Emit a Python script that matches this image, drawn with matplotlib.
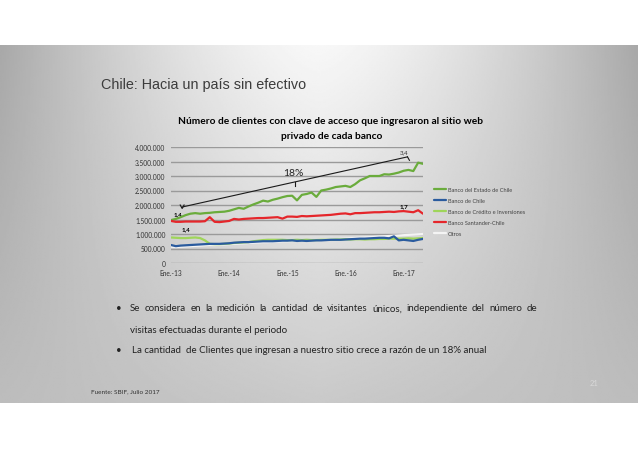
import numpy as np
import matplotlib
matplotlib.use("Agg")
import matplotlib.pyplot as plt
from matplotlib.ticker import FuncFormatter

# Monthly values, Jan-2013 .. May-2017, in millions of clients
estado = [1.48, 1.52, 1.58, 1.65, 1.70, 1.72, 1.70, 1.72, 1.73, 1.75, 1.76, 1.77,
          1.80, 1.85, 1.90, 1.87, 1.95, 2.02, 2.08, 2.15, 2.12, 2.18, 2.22, 2.27,
          2.31, 2.32, 2.16, 2.35, 2.38, 2.43, 2.28, 2.50, 2.53, 2.57, 2.62, 2.64,
          2.66, 2.62, 2.72, 2.85, 2.92, 3.00, 3.00, 3.00, 3.06, 3.05, 3.08, 3.12,
          3.18, 3.21, 3.17, 3.46, 3.42]
chile = [0.62, 0.58, 0.60, 0.61, 0.62, 0.63, 0.64, 0.65, 0.66, 0.66, 0.66, 0.67,
         0.68, 0.70, 0.71, 0.72, 0.72, 0.73, 0.74, 0.75, 0.75, 0.75, 0.76, 0.77,
         0.77, 0.78, 0.76, 0.77, 0.76, 0.77, 0.78, 0.78, 0.79, 0.80, 0.80, 0.80,
         0.81, 0.82, 0.83, 0.84, 0.84, 0.85, 0.86, 0.87, 0.87, 0.85, 0.92, 0.78,
         0.80, 0.78, 0.76, 0.80, 0.83]
bci = [0.88, 0.87, 0.86, 0.86, 0.87, 0.88, 0.86, 0.78, 0.66, 0.65, 0.65, 0.66,
       0.67, 0.69, 0.70, 0.71, 0.72, 0.75, 0.77, 0.79, 0.80, 0.80, 0.80, 0.80,
       0.79, 0.79, 0.80, 0.79, 0.80, 0.79, 0.79, 0.80, 0.80, 0.80, 0.81, 0.81,
       0.82, 0.81, 0.82, 0.82, 0.81, 0.82, 0.82, 0.83, 0.83, 0.84, 0.84, 0.84,
       0.84, 0.85, 0.84, 0.85, 0.86]
santander = [1.45, 1.42, 1.42, 1.43, 1.43, 1.43, 1.43, 1.44, 1.58, 1.42, 1.41, 1.43,
             1.45, 1.52, 1.50, 1.52, 1.53, 1.54, 1.55, 1.55, 1.56, 1.57, 1.58, 1.53,
             1.60, 1.60, 1.59, 1.62, 1.61, 1.62, 1.63, 1.64, 1.65, 1.66, 1.68, 1.70,
             1.71, 1.68, 1.72, 1.72, 1.73, 1.74, 1.75, 1.75, 1.76, 1.77, 1.76, 1.78,
             1.79, 1.77, 1.75, 1.82, 1.70]
otros = [0.56, 0.55, 0.56, 0.57, 0.58, 0.59, 0.60, 0.61, 0.62, 0.62, 0.63, 0.64,
         0.65, 0.66, 0.67, 0.68, 0.69, 0.70, 0.71, 0.72, 0.72, 0.73, 0.74, 0.75,
         0.75, 0.76, 0.76, 0.77, 0.78, 0.78, 0.79, 0.80, 0.80, 0.81, 0.82, 0.83,
         0.84, 0.85, 0.86, 0.87, 0.88, 0.89, 0.90, 0.91, 0.92, 0.93, 0.94, 0.95,
         0.96, 0.97, 0.98, 0.99, 1.00]

series_names = ["Banco del Estado de Chile", "Banco de Chile",
                "Banco de Crédito e Inversiones", "Banco Santander-Chile", "Otros"]
series_colors = ["#6aac3c", "#2a5b9e", "#9fd55a", "#e5262b", "#f4f4f4"]

x_ticks = [0, 12, 24, 36, 48]
x_labels = ["Ene.-13", "Ene.-14", "Ene.-15", "Ene.-16", "Ene.-17"]
y_ticks = [0, 500000, 1000000, 1500000, 2000000, 2500000, 3000000, 3500000, 4000000]

# trend annotation (month, millions)
trend_start = (2.3, 1.93)
trend_end = (48.8, 3.66)

W, H = 638, 452
fig = plt.figure(figsize=(W / 100, H / 100), dpi=100)
fig.patch.set_facecolor("white")

# slide background: grey gradient between white bands
bg = fig.add_axes([0, 0, 1, 1])
bg.set_axis_off()
bg.set_xlim(0, W)
bg.set_ylim(H, 0)
slide_top, slide_bot = 46, 404
gx, gy = np.meshgrid(np.linspace(-1, 1, 400), np.linspace(0, 1, 240))
top_row = 0.97 - 0.31 * np.abs(gx) ** 1.5
bot_row = 0.79 - 0.05 * np.abs(gx)
shade = top_row * (1 - gy) + bot_row * gy
bg.imshow(shade, cmap="gray", vmin=0, vmax=1, extent=[0, W, slide_bot, slide_top],
          aspect="auto", interpolation="bilinear")

fam = ["Lato", "DejaVu Sans"]
bg.text(101, 85, "Chile: Hacia un país sin efectivo", fontsize=10.4,
        family=["Liberation Sans", "DejaVu Sans"], color="#3c3c3c", va="center")
bg.text(330, 121, "Número de clientes con clave de acceso que ingresaron al sitio web",
        fontsize=7.3, family=fam, weight="bold", ha="center", va="center", color="black")
bg.text(332, 137, "privado de cada banco", fontsize=7.3, family=fam, weight="bold",
        ha="center", va="center", color="black")

bullet_font = dict(fontsize=7.0, family=fam, color="#222222", va="baseline")
renderer = fig.canvas.get_renderer()


def justified(x0, x1, y, line):
    # place words one by one so the line fills x0..x1
    words = line.split()
    objs = [bg.text(0, y, w, **bullet_font) for w in words]
    widths = [o.get_window_extent(renderer).width for o in objs]
    gap = (x1 - x0 - sum(widths)) / (len(words) - 1)
    x = x0
    for o, w in zip(objs, widths):
        o.set_x(x)
        x += w + gap


bg.text(116, 311.5, "•", **bullet_font)
justified(130, 537, 311.5,
          "Se considera en la medición la cantidad de visitantes únicos, independiente del número de")
bg.text(130, 333.5, "visitas efectuadas durante el periodo", **bullet_font)
bg.text(116, 353.5, "•", **bullet_font)
bg.text(132, 353.5, "La cantidad  de Clientes que ingresan a nuestro sitio crece a razón de un 18% anual",
        **bullet_font)
bg.text(91, 392, "Fuente: SBIF, Julio 2017", fontsize=4.6, family=fam, color="#333333", va="center")
bg.text(590, 384, "21", fontsize=5.5, family=fam, color="#d8d8d8", va="center")

# chart
ax = fig.add_axes([171 / W, 1 - 264 / H, (423 - 171) / W, (264 - 148) / H])
ax.patch.set_alpha(0)
months = np.arange(len(estado))
data = [estado, chile, bci, santander, otros]
order = [4, 2, 1, 0, 3]
for i in order:
    ax.plot(months, np.array(data[i]) * 1e6, color=series_colors[i], lw=1.6,
            label=series_names[i], zorder=3 + order.index(i), solid_capstyle="round")

ax.set_xlim(0, 52)
ax.set_ylim(0, 4000000)
ax.set_yticks(y_ticks)
ax.yaxis.set_major_formatter(FuncFormatter(lambda v, p: f"{int(v):,}".replace(",", ".")))
ax.set_xticks(x_ticks)
ax.set_xticklabels(x_labels)
ax.tick_params(axis="both", length=0, labelsize=4.8, colors="#333333", pad=4)
for lab in ax.get_xticklabels() + ax.get_yticklabels():
    lab.set_family(fam)
ax.grid(axis="y", color="#9a9a9a", lw=1.0, zorder=1)
for s in ax.spines.values():
    s.set_visible(False)

# trend line and labels
ax.plot([trend_start[0], trend_end[0]], [trend_start[1] * 1e6, trend_end[1] * 1e6],
        color="#1a1a1a", lw=0.8, zorder=10)
ax.plot([trend_end[0], trend_end[0] + 0.4], [trend_end[1] * 1e6, 3.54e6],
        color="#1a1a1a", lw=0.8, zorder=10)
ax.plot([trend_start[0] - 0.4, trend_start[0], trend_start[0] + 0.4],
        [2.0e6, 1.88e6, 2.0e6], color="#1a1a1a", lw=0.8, zorder=10)
mid = 25.5
mid_y = trend_start[1] + (mid - trend_start[0]) * (trend_end[1] - trend_start[1]) / (trend_end[0] - trend_start[0])
ax.plot([mid, mid], [mid_y * 1e6, (mid_y - 0.15) * 1e6], color="#1a1a1a", lw=0.8, zorder=10)
ax.text(25.3, 3.12e6, "18%", fontsize=7.5, family=fam, ha="center", va="center", color="#222222")
ax.text(1.4, 1.70e6, "1,4", fontsize=4.5, family=fam, weight="bold", ha="center", va="center")
ax.text(3.0, 1.18e6, "1,4", fontsize=4.5, family=fam, weight="bold", ha="center", va="center")
ax.text(48.0, 3.83e6, "3,4", fontsize=4.5, family=fam, ha="center", va="center", color="#333333")
ax.text(48.0, 1.97e6, "1,7", fontsize=4.5, family=fam, weight="bold", ha="center", va="center")

handles, labels = ax.get_legend_handles_labels()
lookup = dict(zip(labels, handles))
leg = fig.legend([lookup[n] for n in series_names], series_names,
                 loc="upper left", bbox_to_anchor=(429 / W, 1 - 183 / H),
                 frameon=False, handlelength=2.1, handletextpad=0.3,
                 labelspacing=1.05, prop={"family": fam, "size": 4.1})
for t in leg.get_texts():
    t.set_color("#444444")

fig.savefig("out.png", dpi=100, facecolor=fig.get_facecolor())
